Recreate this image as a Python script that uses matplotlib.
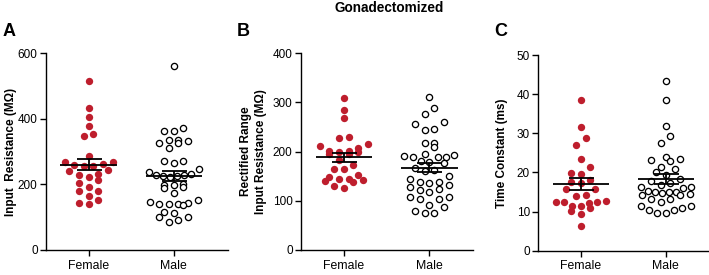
import numpy as np
import matplotlib
matplotlib.use("Agg")
import matplotlib.pyplot as plt

plt.rcParams['font.family'] = ['Liberation Sans', 'DejaVu Sans']

# data
groups = ["Female", "Male"]

a_female = [514, 434, 407, 379, 355, 348, 287, 267, 267, 262, 259, 255, 255, 243,
            241, 232, 229, 222, 213, 205, 193, 180, 180, 165, 154, 144, 139]
a_male = [560, 371, 364, 364, 337, 335, 333, 325, 325, 310, 271, 271, 264, 247,
          238, 232, 230, 228, 226, 225, 224, 200, 198, 198, 193, 188, 173, 152,
          146, 144, 140, 140, 139, 137, 117, 114, 100, 100, 92, 86]

b_female = [310, 285, 268, 230, 227, 215, 212, 208, 202, 201, 200, 199, 195, 195,
            183, 173, 165, 165, 152, 148, 144, 144, 142, 140, 139, 131, 127]
b_male = [312, 288, 277, 261, 256, 247, 245, 218, 218, 209, 195, 193, 191, 190,
          189, 189, 180, 178, 176, 166, 163, 161, 150, 144, 139, 139, 136, 132,
          129, 125, 123, 117, 108, 108, 103, 103, 92, 88, 79, 76, 75]

c_female = [38.6, 31.7, 28.7, 26.9, 23.5, 21.3, 19.8, 19.6, 18.1, 17.5, 17.4, 15.8,
            15.8, 14.2, 14.0, 12.8, 12.5, 12.4, 12.4, 12.2, 11.5, 11.5, 10.8, 10.2,
            9.3, 6.2]
c_male = [43.4, 38.6, 31.9, 29.2, 27.5, 24.0, 23.3, 23.0, 23.4, 20.8, 21.5, 20.2,
          19.3, 18.2, 17.9, 17.2, 16.4, 15.9, 16.4, 16.8, 14.9, 14.4, 14.3, 14.9,
          15.2, 14.3, 14.7, 14.9, 13.1, 13.1, 12.5, 11.3, 10.4, 9.6, 9.6, 10.3,
          10.8, 11.5]

red = "#BE1E2D"

W, H = 709, 275
fig = plt.figure(figsize=(W / 100, H / 100), dpi=100)


def px_axes(left, right, top, bottom):
    return fig.add_axes([left / W, 1 - bottom / H, (right - left) / W, (bottom - top) / H])


def swarm(ax, xc, vals, row_h=8.0, gap=9.6, max_w=50):
    # row based scatter layout (lowest point of a row in the middle)
    vals = np.asarray(vals, float)
    pts = ax.transData.transform(np.column_stack([np.full(len(vals), xc), vals]))
    order = np.argsort(pts[:, 1])
    xs = pts[:, 0].copy()
    rows, cur = [], [order[0]]
    for i in order[1:]:
        if pts[i, 1] - pts[cur[0], 1] < row_h:
            cur.append(i)
        else:
            rows.append(cur)
            cur = [i]
    rows.append(cur)
    for r in rows:
        n = len(r)
        g = min(gap, max_w / max(n - 1, 1))
        slots = (np.arange(n) - (n - 1) / 2) * g
        slots = slots[np.argsort(np.abs(slots) + 1e-3 * np.arange(n))]
        for k, i in enumerate(r):
            xs[i] = pts[i, 0] + slots[k]
    back = ax.transData.inverted().transform(np.column_stack([xs, pts[:, 1]]))
    return back[:, 0]


def panel(ax, fem, mal, ymax, ystep, xmax, ylabel, lab_x):
    ax.set_xlim(-0.5, xmax)
    ax.set_ylim(0, ymax)
    for s in ["top", "right"]:
        ax.spines[s].set_visible(False)
    for s in ["left", "bottom"]:
        ax.spines[s].set_linewidth(1.0)
    ax.set_yticks(np.arange(0, ymax + 1e-9, ystep))
    ax.set_xticks([0, 1])
    ax.set_xticklabels(groups, fontsize=8.8)
    ax.tick_params(axis="y", labelsize=8.5, length=4, width=1.0, pad=2)
    ax.tick_params(axis="x", length=4, width=1.0, pad=3)
    ax.set_ylabel(ylabel, fontsize=8.5, fontweight="bold", linespacing=1.4)
    ax.yaxis.set_label_coords(lab_x, 0.5)

    xf = swarm(ax, 0, fem)
    ax.scatter(xf, fem, s=28, color=red, linewidths=0, zorder=2)
    xm = swarm(ax, 1, mal)
    ax.scatter(xm, mal, s=20, facecolor="white", edgecolor="black", linewidths=0.95, zorder=2)

    for xc, v in [(0, fem), (1, mal)]:
        v = np.asarray(v, float)
        m = v.mean()
        sem = v.std(ddof=1) / np.sqrt(len(v))
        ax.hlines(m, xc - 0.33, xc + 0.33, color="black", lw=1.3, zorder=3)
        ax.errorbar(xc, m, yerr=sem, fmt="none", ecolor="black", elinewidth=1.3,
                    capsize=9, capthick=1.3, zorder=3)


axA = px_axes(46, 228, 53.3, 250)
panel(axA, a_female, a_male, 600, 200, 1.64, "Input  Resistance (M\u03a9)", -0.16)

axB = px_axes(301, 473, 53.3, 250)
panel(axB, b_female, b_male, 400, 100, 1.51, "Rectified Range\nInput Resistance (M\u03a9)", -0.195)

axC = px_axes(538.3, 708, 55, 250.7)
panel(axC, c_female, c_male, 50, 10, 1.5, "Time Constant (ms)", -0.18)

for lab, xp in [("A", 3), ("B", 237), ("C", 494)]:
    fig.text(xp / W, 1 - 31.5 / H, lab, fontsize=13, fontweight="bold", va="center", ha="left")

fig.text(389 / W, 1 - 7.5 / H, "Gonadectomized", fontsize=9.8, fontweight="bold",
         ha="center", va="center")

fig.savefig("out.png", dpi=100)
